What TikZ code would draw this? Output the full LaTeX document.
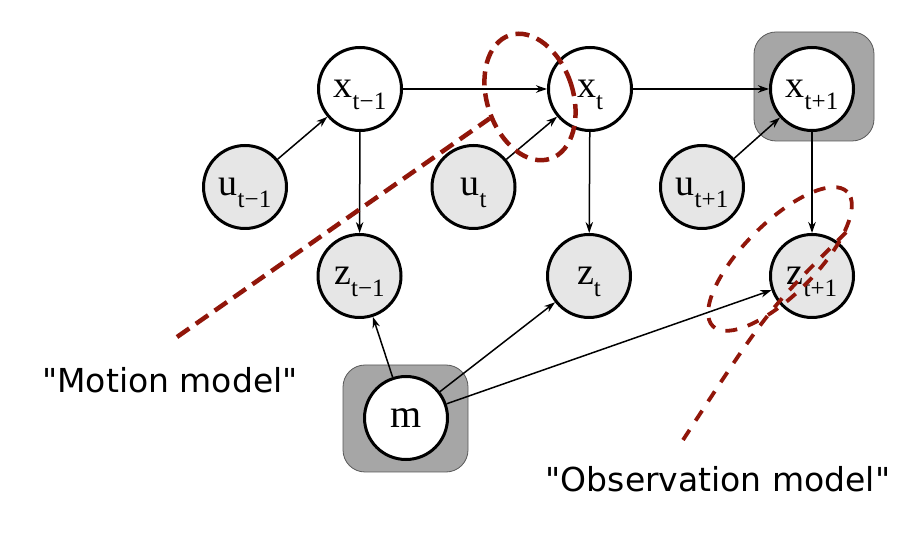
\documentclass[tikz,border=0pt]{standalone}
\usepackage{fontspec}
\setmainfont{Liberation Serif}
\newfontfamily\notefont{DejaVu Sans}
\usetikzlibrary{arrows.meta,shapes.geometric}
\definecolor{modelred}{RGB}{145,22,10}
\definecolor{vargray}{RGB}{230,230,230}
\definecolor{boxgray}{RGB}{166,166,166}
\newcommand\rv[2]{#1\raisebox{-0.32em}[0pt][0pt]{\fontsize{25pt}{25pt}\selectfont#2}}

\begin{document}
\begin{tikzpicture}
  [x=1pt, y=1pt, >={Stealth[length=11pt,width=7.5pt]},
    every var/.style={
      circle,
      draw,
      line width=3pt,
      fill=white,
      inner sep=0pt,
      minimum size=83pt,
      font=\fontsize{38pt}{38pt}\selectfont
    },
    var obs/.style={fill=vargray},
    known box/.style={
      rectangle,
      rounded corners=22pt,
      draw=black!65,
      line width=0.8pt,
      fill=boxgray
    },
    arrow line/.style={line width=1.5pt},
    model ring/.style={
      ellipse,
      draw=modelred,
      inner sep=0pt,
      line width=4.5pt,
      dash pattern=on 14pt off 8pt
    },
    model line/.style={
      draw=modelred,
      line width=4.5pt,
      dash pattern=on 15pt off 8pt
    },
    note/.style={font=\notefont\fontsize{33pt}{33pt}\selectfont}
  ]
\useasboundingbox (0,0) rectangle (918,538);

% Draw known boxes
\node [known box, minimum width=120pt, minimum height=109pt] (xbox) at (814,451.5) {};
\node [known box, minimum width=125pt, minimum height=107pt] (mbox) at (405.5,119.5) {};

% Draw state nodes
\foreach \n/\x/\s in {xp/360/t−1, xc/590/t, xn/812/t+1}
  \node [every var] (\n) at (\x,449) {\rv{x}{\s}};

% Draw control nodes
\foreach \n/\x/\s in {up/245/t−1, uc/473.5/t, un/702/t+1}
  \node [every var, var obs] (\n) at (\x,351) {\rv{u}{\s}};

% Draw measurement nodes
\foreach \n/\x/\s in {zp/359.5/t−1, zc/589/t, zn/812/t+1}
  \node [every var, var obs] (\n) at (\x,262) {\rv{z}{\s}};

% Draw map node
\node [every var, font=\fontsize{40pt}{40pt}\selectfont] (m) at (406,120) {m};

% Connect nodes
\foreach \a/\b in {up/xp, uc/xc, un/xn, xp/xc, xc/xn, xp/zp, xc/zc, xn/zn, m/zp, m/zc, m/zn}
  \draw [->, arrow line] (\a) -- (\b);

% Mark motion model
\node [model ring, minimum width=86pt, minimum height=130pt, rotate=18] (motell) at (530,441) {};
\coordinate (motail) at (177,201);
\draw [model line] (motail) -- (motell.190);

% Mark observation model
\node [model ring, line width=3.8pt, dash pattern=on 12pt off 11pt,
  minimum width=190pt, minimum height=72pt, rotate=45] (obsell) at (780,279) {};
\coordinate (obstail) at (683,98);
\draw [model line, line width=3.8pt, dash pattern=on 12pt off 11pt]
  (obsell.337) .. controls (767,227) .. (obstail);

% Label models
\node [note] (motlbl) at (170,158) {"Motion model"};
\node [note] (obslbl) at (718,59) {"Observation model"};
\end{tikzpicture}
\end{document}
